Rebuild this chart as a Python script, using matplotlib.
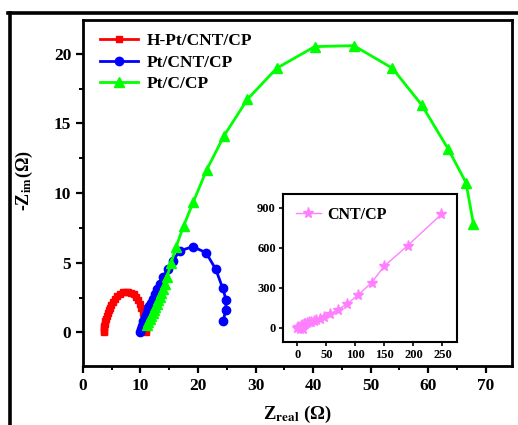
import matplotlib
matplotlib.use("Agg")
import matplotlib.pyplot as plt
from matplotlib.lines import Line2D
from matplotlib.ticker import MultipleLocator

plt.rcParams["font.family"] = ["Liberation Serif", "DejaVu Serif"]
plt.rcParams["font.weight"] = "bold"
plt.rcParams["mathtext.fontset"] = "stix"

# H-Pt/CNT/CP
hpt_x = [3.6, 3.62, 3.66, 3.72, 3.8, 3.9, 4.02, 4.16, 4.32, 4.5, 4.7, 4.95, 5.25,
         5.6, 6.0, 6.45, 6.9, 7.4, 7.9, 8.4, 8.85, 9.25, 9.6, 9.9, 10.15, 10.4,
         10.6, 10.75, 10.85, 10.92, 10.96]
hpt_y = [0.0, 0.12, 0.28, 0.45, 0.62, 0.8, 0.98, 1.17, 1.37, 1.57, 1.77, 1.98, 2.2,
         2.42, 2.62, 2.78, 2.88, 2.93, 2.92, 2.85, 2.72, 2.53, 2.3, 2.03, 1.73, 1.4,
         1.05, 0.72, 0.42, 0.18, 0.04]

# Pt/CNT/CP
pcn_x = [9.95, 10.05, 10.2, 10.35, 10.5, 10.7, 10.9, 11.1, 11.3, 11.55, 11.8,
         12.1, 12.45, 12.85, 13.35, 13.95, 14.7, 15.6, 16.8, 19.1, 21.4, 23.1,
         24.3, 24.9, 24.8, 24.4]
pcn_y = [0.05, 0.22, 0.42, 0.62, 0.82, 1.02, 1.22, 1.42, 1.64, 1.88, 2.12,
         2.4, 2.72, 3.08, 3.5, 3.98, 4.52, 5.1, 5.85, 6.15, 5.72, 4.52,
         3.16, 2.32, 1.6, 0.81]

# Pt/C/CP
pcc_x = [11.1, 11.35, 11.6, 11.85, 12.1, 12.35, 12.6, 12.85, 13.1, 13.35, 13.6,
         13.9, 14.2, 14.6, 15.3, 16.2, 17.5, 19.2, 21.5, 24.5, 28.6, 33.7, 40.3,
         47.1, 53.8, 58.9, 63.5, 66.6, 67.9]
pcc_y = [0.5, 0.72, 0.94, 1.16, 1.38, 1.6, 1.83, 2.06, 2.3, 2.55, 2.8,
         3.1, 3.45, 3.95, 4.95, 6.15, 7.64, 9.38, 11.66, 14.1, 16.74, 18.97, 20.52,
         20.59, 18.97, 16.33, 13.17, 10.75, 7.76]

# CNT/CP (inset)
cnt_x = [0, 2, 4, 6, 8, 10, 12, 14, 17, 20, 24, 28, 33, 39, 46, 56, 70, 86,
         105, 128, 150, 190, 248]
cnt_y = [0, 5, -10, 14, 18, -12, 26, 30, 35, 40, 46, 53, 60, 68, 80, 103, 135, 180,
         245, 338, 463, 615, 850]

fig = plt.figure(figsize=(5.18, 4.25), dpi=100)
ax = fig.add_axes([0.1602, 0.1388, 0.8282, 0.8141])

ax.plot(hpt_x, hpt_y, color="#FF0000", lw=2, marker="s", ms=4.5, label="H-Pt/CNT/CP")
ax.plot(pcn_x, pcn_y, color="#0000FF", lw=2, marker="o", ms=6, label="Pt/CNT/CP")
ax.plot(pcc_x, pcc_y, color="#00FF00", lw=2, marker="^", ms=6.5, label="Pt/C/CP")

ax.set_xlim(0, 74.6)
ax.set_ylim(-2.42, 22.43)
ax.xaxis.set_major_locator(MultipleLocator(10))
ax.xaxis.set_minor_locator(MultipleLocator(5))
ax.yaxis.set_major_locator(MultipleLocator(5))
ax.yaxis.set_minor_locator(MultipleLocator(2.5))
ax.tick_params(which="major", direction="out", length=5, width=1.6, labelsize=12.5)
ax.tick_params(which="minor", direction="out", length=3, width=1.4)
for s in ax.spines.values():
    s.set_linewidth(2)
for lab in ax.get_xticklabels() + ax.get_yticklabels():
    lab.set_fontweight("bold")

leg = ax.legend(loc="upper left", frameon=False, fontsize=12.5, handlelength=2.2,
                handletextpad=0.5, labelspacing=0.32, borderaxespad=0,
                bbox_to_anchor=(0.023, 0.983))
for t in leg.get_texts():
    t.set_fontweight("bold")

fig.text(0.048, 0.576, r"-Z$_{\mathbf{im}}$(Ω)", rotation=90, ha="center", va="center",
         fontsize=13, fontweight="bold")
fig.text(0.575, 0.024, r"Z$_{\mathbf{real}}$ (Ω)", ha="center", va="center",
         fontsize=13.5, fontweight="bold")

# inset
ins = fig.add_axes([0.5458, 0.196, 0.3364, 0.3468])
ins.plot(cnt_x, cnt_y, color="#FF80FF", lw=1, marker="*", ms=8, label="CNT/CP")
ins.set_xlim(-25, 275)
ins.set_ylim(-105, 1000)
ins.xaxis.set_major_locator(MultipleLocator(50))
ins.yaxis.set_major_locator(MultipleLocator(300))
ins.tick_params(direction="out", length=3, width=1.2, labelsize=9, pad=2)
for s in ins.spines.values():
    s.set_linewidth(1.5)
for lab in ins.get_xticklabels() + ins.get_yticklabels():
    lab.set_fontweight("bold")
ileg = ins.legend(loc="upper left", frameon=False, fontsize=11.5, handlelength=1.6,
                  handletextpad=0.4, borderaxespad=0.4)
for t in ileg.get_texts():
    t.set_fontweight("bold")

# outer frame pieces
fig.add_artist(Line2D([10 / 518, 10 / 518], [0, 1 - 13 / 425], color="black", lw=2.6,
                      transform=fig.transFigure))
fig.add_artist(Line2D([8 / 518, 517 / 518], [1 - 13 / 425, 1 - 13 / 425], color="black",
                      lw=2.6, transform=fig.transFigure))

fig.savefig("out.png", dpi=100)
